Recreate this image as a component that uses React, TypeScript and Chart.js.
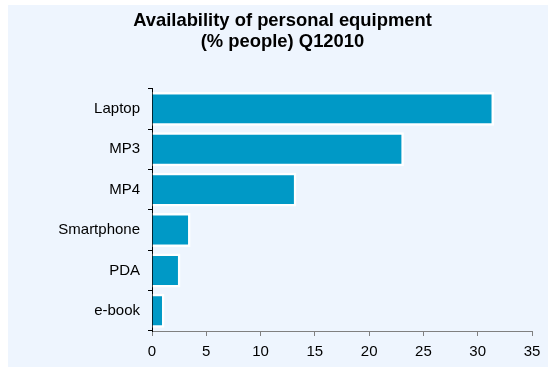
import React, { useEffect, useRef } from 'react';
import { Chart, registerables } from 'chart.js';

Chart.register(...registerables);

const categories = ['Laptop', 'MP3', 'MP4', 'Smartphone', 'PDA', 'e-book'];
const values = [31.5, 23.2, 13.3, 3.55, 2.62, 1.15];
const titleLines = ['Availability of personal equipment', '(% people) Q12010'];
const xMin = 0;
const xMax = 35;
const xStep = 5;

const FONT = '"Liberation Sans", Arial, Helvetica, sans-serif';

const bgPlugin = {
  id: 'bgPanel',
  beforeDraw(chart: any) {
    const ctx = chart.ctx;
    ctx.save();
    ctx.fillStyle = '#ffffff';
    ctx.fillRect(0, 0, chart.width, chart.height);
    ctx.fillStyle = '#eef5fe';
    ctx.fillRect(8, 5, chart.width - 8, chart.height - 5);
    ctx.restore();
  },
};

export default function App() {
  const ref = useRef<HTMLCanvasElement | null>(null);

  useEffect(() => {
    if (!ref.current) return;
    const chart = new Chart(ref.current, {
      type: 'bar',
      data: {
        labels: categories,
        datasets: [
          {
            data: values,
            backgroundColor: '#0099c6',
            borderColor: '#ffffff',
            borderWidth: 2.5,
            borderSkipped: 'start',
            barPercentage: 0.84,
            categoryPercentage: 1,
          },
        ],
      },
      options: {
        indexAxis: 'y',
        responsive: false,
        animation: false,
        devicePixelRatio: 1,
        layout: { padding: { left: 33, right: 16, top: 0, bottom: 0 } },
        plugins: {
          legend: { display: false },
          tooltip: { enabled: false },
          title: {
            display: true,
            text: titleLines,
            color: '#000000',
            font: { family: FONT, size: 18.4, weight: 'bold', lineHeight: 1.16 },
            padding: { top: 10, bottom: 36 },
          },
        },
        scales: {
          x: {
            type: 'linear',
            min: xMin,
            max: xMax,
            ticks: {
              stepSize: xStep,
              color: '#000000',
              font: { family: FONT, size: 15 },
              padding: 7,
            },
            grid: {
              drawOnChartArea: false,
              drawTicks: true,
              tickLength: 5,
              color: '#808080',
            },
            border: { display: true, color: '#808080', width: 1 },
            afterFit(s: any) {
              s.height = 36;
            },
          },
          y: {
            type: 'category',
            ticks: {
              color: '#000000',
              font: { family: FONT, size: 15 },
              padding: 8,
            },
            grid: {
              offset: true,
              drawOnChartArea: false,
              drawTicks: true,
              tickLength: 4,
              color: '#000000',
            },
            border: { display: true, color: '#000000', width: 1 },
            afterFit(s: any) {
              s.width = 119;
            },
          },
        },
      },
      plugins: [bgPlugin],
    });
    return () => chart.destroy();
  }, []);

  return (
    <div style={{ position: 'absolute', left: 0, top: 0, width: 548, height: 367 }}>
      <canvas ref={ref} width={548} height={367} style={{ display: 'block', width: 548, height: 367 }} />
    </div>
  );
}
